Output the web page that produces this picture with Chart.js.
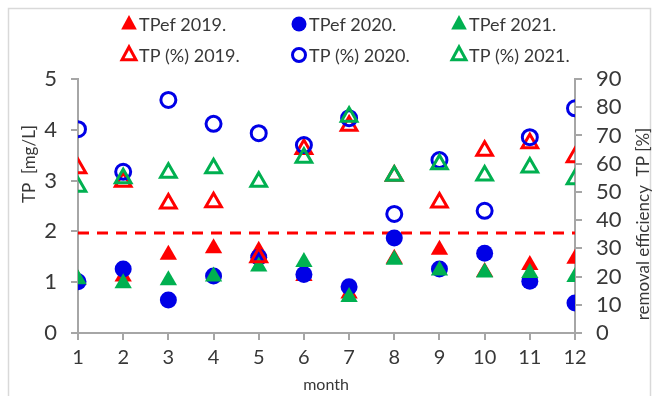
<!DOCTYPE html>
<html>
<head>
<meta charset="utf-8">
<script src="https://cdn.jsdelivr.net/npm/chart.js@4.4.1/dist/chart.umd.min.js"></script>
<style>
  html, body { margin: 0; padding: 0; background: #ffffff; }
  #wrap { position: relative; width: 653px; height: 396px; }
</style>
</head>
<body>
<div id="wrap"><canvas id="tpChart" width="653" height="396"></canvas></div>
<script>
// Monthly TP data
const months = [1, 2, 3, 4, 5, 6, 7, 8, 9, 10, 11, 12];

// effluent TP [mg/L] (left axis)
const tpef2019 = [1.05, 1.11, 1.54, 1.67, 1.62, 1.12, 0.78, 1.46, 1.64, 1.2, 1.34, 1.46];
const tpef2020 = [1.01, 1.26, 0.65, 1.12, 1.49, 1.15, 0.91, 1.87, 1.26, 1.57, 1.02, 0.59];
const tpef2021 = [1.06, 0.98, 1.04, 1.11, 1.31, 1.4, 0.71, 1.44, 1.23, 1.19, 1.18, 1.1];

// removal efficiency TP [%] (right axis)
const tpPct2019 = [58.4, 53.6, 45.9, 46.3, 26.8, 65.2, 73.4, 55.7, 46.2, 64.6, 67.2, 62.3];
const tpPct2020 = [72.2, 57.1, 82.6, 74.1, 70.8, 66.6, 76.1, 42.2, 61.3, 43.3, 69.4, 79.6];
const tpPct2021 = [51.8, 54.8, 56.8, 58.4, 53.6, 62.1, 76.6, 55.7, 59.8, 55.8, 58.6, 54.5];

// limit line
const limitTP = 1.97;

const leftTicks = [0, 1, 2, 3, 4, 5];
const rightTicks = [0, 10, 20, 30, 40, 50, 60, 70, 80, 90];

const colors = {
  red: "#ff0000",
  blue: "#0000e6",
  green: "#00b050",
  axis: "#a6a6a6",
  text: "#383838",
};

const fontFamily = "'Lato', 'Open Sans', sans-serif";

function toPoints(values) {
  return values.map((v, i) => ({ x: months[i], y: v }));
}

function filledSet(label, values, color, style, radius, order) {
  return {
    label: label,
    data: toPoints(values),
    yAxisID: "y",
    showLine: false,
    pointStyle: style,
    pointRadius: radius,
    pointBackgroundColor: color,
    pointBorderColor: color,
    pointBorderWidth: 0,
    order: order,
  };
}

function openSet(label, values, color, style, radius, order) {
  return {
    label: label,
    data: toPoints(values),
    yAxisID: "y1",
    showLine: false,
    pointStyle: style,
    pointRadius: radius,
    pointBackgroundColor: "transparent",
    pointBorderColor: color,
    pointBorderWidth: 3,
    order: order,
  };
}

// legend + axis titles drawn on the canvas
const legendItems = [
  { text: "TPef 2019.", color: colors.red, style: "triangle", fill: true, x: 129, y: 24 },
  { text: "TPef 2020.", color: colors.blue, style: "circle", fill: true, x: 299, y: 24 },
  { text: "TPef 2021.", color: colors.green, style: "triangle", fill: true, x: 459, y: 24 },
  { text: "TP (%) 2019.", color: colors.red, style: "triangle", fill: false, x: 129, y: 55 },
  { text: "TP (%) 2020.", color: colors.blue, style: "circle", fill: false, x: 299, y: 55 },
  { text: "TP (%) 2021.", color: colors.green, style: "triangle", fill: false, x: 459, y: 55 },
];

const decorPlugin = {
  id: "decor",
  beforeDraw(chart) {
    const ctx = chart.ctx;
    ctx.save();
    ctx.fillStyle = "#ffffff";
    ctx.fillRect(0, 0, chart.width, chart.height);
    ctx.strokeStyle = "#d9d9d9";
    ctx.lineWidth = 1.5;
    ctx.strokeRect(8.5, 8.5, 642, 400);
    ctx.restore();
  },
  afterDraw(chart) {
    const ctx = chart.ctx;
    ctx.save();
    legendItems.forEach((it) => {
      ctx.beginPath();
      if (it.style === "circle") {
        ctx.arc(it.x, it.y, it.fill ? 7.5 : 6.5, 0, Math.PI * 2);
      } else {
        const r = it.fill ? 9 : 8;
        ctx.moveTo(it.x, it.y - r);
        ctx.lineTo(it.x + r * 0.87, it.y + r * 0.6);
        ctx.lineTo(it.x - r * 0.87, it.y + r * 0.6);
        ctx.closePath();
      }
      if (it.fill) {
        ctx.fillStyle = it.color;
        ctx.fill();
      } else {
        ctx.strokeStyle = it.color;
        ctx.lineWidth = 3;
        ctx.stroke();
      }
      ctx.fillStyle = colors.text;
      ctx.font = "18px " + fontFamily;
      ctx.textAlign = "left";
      ctx.textBaseline = "middle";
      ctx.fillText(it.text, it.x + 10, it.y + 1);
    });

    ctx.fillStyle = colors.text;
    ctx.font = "16px " + fontFamily;
    ctx.textAlign = "center";
    ctx.textBaseline = "middle";
    ctx.fillText("month", 326, 385);

    ctx.save();
    ctx.translate(30, 164);
    ctx.rotate(-Math.PI / 2);
    ctx.font = "17px " + fontFamily;
    ctx.fillText("TP  [mg/L]", 0, 0);
    ctx.restore();

    ctx.save();
    ctx.translate(644, 224);
    ctx.rotate(-Math.PI / 2);
    ctx.font = "17px " + fontFamily;
    ctx.fillText("removal efficiency  TP [%]", 0, 0);
    ctx.restore();
    ctx.restore();
  },
};

function initTPChart() {
  const ctx = document.getElementById("tpChart");

  const config = {
    type: "scatter",
    data: {
      datasets: [
        filledSet("TPef 2019.", tpef2019, colors.red, "triangle", 10, 6),
        filledSet("TPef 2020.", tpef2020, colors.blue, "circle", 8.5, 5),
        filledSet("TPef 2021.", tpef2021, colors.green, "triangle", 10, 4),
        openSet("TP (%) 2019.", tpPct2019, colors.red, "triangle", 9, 3),
        openSet("TP (%) 2020.", tpPct2020, colors.blue, "circle", 7.5, 2),
        openSet("TP (%) 2021.", tpPct2021, colors.green, "triangle", 9, 1),
        {
          label: "limit",
          type: "line",
          data: [
            { x: months[0], y: limitTP },
            { x: months[months.length - 1], y: limitTP },
          ],
          yAxisID: "y",
          borderColor: colors.red,
          borderWidth: 3,
          borderDash: [11, 8],
          pointRadius: 0,
          order: 7,
        },
      ],
    },
    options: {
      responsive: false,
      animation: false,
      events: [],
      layout: { padding: { top: 79, left: 0, right: 0, bottom: 0 } },
      plugins: {
        legend: { display: false },
        tooltip: { enabled: false },
      },
      scales: {
        x: {
          type: "linear",
          min: 1,
          max: 12,
          afterBuildTicks: (axis) => {
            axis.ticks = months.map((m) => ({ value: m }));
          },
          afterFit: (axis) => {
            axis.height = 63;
          },
          grid: {
            drawOnChartArea: false,
            drawTicks: true,
            tickLength: 7,
            color: colors.axis,
            lineWidth: 2,
          },
          border: { color: colors.axis, width: 2 },
          ticks: {
            autoSkip: false,
            maxRotation: 0,
            padding: 6,
            color: colors.text,
            font: { size: 20, family: fontFamily },
          },
        },
        y: {
          position: "left",
          min: 0,
          max: 5,
          afterBuildTicks: (axis) => {
            axis.ticks = leftTicks.map((v) => ({ value: v }));
          },
          afterFit: (axis) => {
            axis.width = 78;
          },
          grid: {
            drawOnChartArea: false,
            drawTicks: true,
            tickLength: 7,
            color: colors.axis,
            lineWidth: 2,
          },
          border: { color: colors.axis, width: 2 },
          ticks: {
            autoSkip: false,
            padding: 14,
            color: colors.text,
            font: { size: 22, family: fontFamily },
          },
        },
        y1: {
          position: "right",
          min: 0,
          max: 90,
          afterBuildTicks: (axis) => {
            axis.ticks = rightTicks.map((v) => ({ value: v }));
          },
          afterFit: (axis) => {
            axis.width = 78;
          },
          grid: {
            drawOnChartArea: false,
            drawTicks: true,
            tickLength: 7,
            color: colors.axis,
            lineWidth: 2,
          },
          border: { color: colors.axis, width: 2 },
          ticks: {
            autoSkip: false,
            padding: 14,
            color: colors.text,
            font: { size: 22, family: fontFamily },
          },
        },
      },
    },
    plugins: [decorPlugin],
  };

  return new Chart(ctx, config);
}

initTPChart();
</script>
</body>
</html>
